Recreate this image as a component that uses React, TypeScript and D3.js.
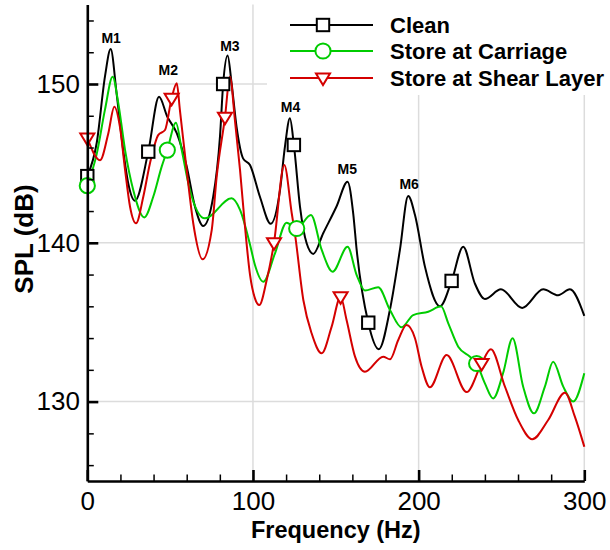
import React, { useEffect, useRef } from "react";
import * as d3 from "d3";

// ---------- data ----------
const cleanF = [0, 5.7, 10.7, 14.1, 17.7, 21.7, 24.7, 28.8, 36.8, 43.3, 48.3, 54, 60, 65, 70, 76, 80.1, 82, 84.7, 87.1, 90.1, 94.1, 98.2, 104.2, 110.7, 116.3, 119.3, 122.3, 124.7, 128.4, 132.4, 136.4, 142.4, 150.5, 157.1, 160.5, 162.6, 169.6, 176, 182.7, 188.7, 193.7, 197.8, 203.8, 212.9, 219.9, 226.9, 233.9, 240, 249.7, 262.5, 275.2, 284.2, 291.3, 300];
const cleanDb = [144.2, 146.3, 150.5, 152.2, 149.4, 145.8, 143.75, 142.65, 145.74, 149.2, 147.94, 146.9, 144.8, 142.27, 141.06, 142.9, 146.7, 150.0, 151.8, 150.04, 147.3, 145.3, 144.9, 142.9, 141.2, 143.3, 146.05, 147.84, 146.16, 142.27, 139.97, 139.3, 140.6, 142.3, 143.85, 141.86, 139.55, 134.97, 133.3, 135.8, 139.55, 142.95, 141.75, 138.5, 136.0, 137.6, 139.75, 137.45, 136.46, 137.07, 135.9, 137.07, 136.7, 137.07, 135.4];
const cleanMarkF = [0, 36.8, 82, 124.7, 169.6, 219.9];

const carriageF = [0, 5.7, 10.7, 15.3, 18.7, 22.8, 27.8, 34.4, 39.8, 44.9, 48.3, 53.5, 57, 62, 71, 87.1, 92.2, 98.2, 101.2, 106.2, 113.3, 120.3, 126.4, 135, 141.5, 148.1, 157.1, 162.6, 167.6, 175.6, 182.7, 189.7, 196.7, 205.8, 213.5, 217.9, 223.9, 231, 235, 240, 245, 251, 256.7, 263.1, 269.6, 276.2, 281.2, 287.3, 293.3, 300];
const carriageDb = [143.6, 145.6, 148.4, 150.46, 148.8, 145.84, 143.3, 141.6, 142.9, 144.8, 145.84, 147.56, 145.84, 143.3, 141.54, 142.8, 142.07, 139.9, 138.6, 137.55, 139.34, 141.27, 140.9, 141.75, 139.55, 138.18, 139.75, 137.97, 137.0, 137.2, 135.77, 134.68, 135.45, 135.66, 136.0, 134.93, 133.46, 132.83, 132.4, 131.15, 130.2, 131.8, 133.99, 130.94, 129.26, 130.94, 132.51, 130.94, 130.0, 131.78];
const carriageMarkF = [0, 48.3, 126.4, 235];

const shearF = [0, 7.7, 12.7, 16.3, 19.7, 22.8, 25.8, 29.4, 33.8, 37.8, 42.9, 46.9, 50.9, 54, 55.9, 60, 64, 69.6, 75.1, 78.1, 83.1, 86.1, 89.1, 92.2, 95.2, 98.2, 101.2, 103.8, 108.3, 112.7, 118.9, 123.4, 125.3, 130.4, 135.4, 141.5, 147.5, 152.9, 156.5, 161.6, 167.6, 178.6, 182.7, 187.7, 192.7, 197.8, 201.8, 206.8, 216.9, 229, 238, 243.6, 252.1, 260.1, 268.6, 278.2, 288.3, 294.3, 300];
const shearDb = [146.6, 145.2, 146.9, 148.57, 147.3, 144.6, 142.27, 141.23, 142.9, 145.0, 146.8, 147.1, 149.1, 150.04, 148.36, 144.58, 141.2, 138.96, 140.8, 144.16, 147.9, 150.46, 147.73, 144.58, 141.0, 138.0, 136.5, 136.08, 137.66, 140.0, 144.9, 141.86, 140.6, 136.4, 134.3, 133.04, 134.72, 136.6, 135.14, 132.83, 131.88, 132.83, 132.66, 133.88, 134.82, 133.99, 132.2, 130.9, 132.93, 130.6, 132.4, 133.29, 130.94, 128.84, 127.63, 128.84, 130.56, 129.05, 127.16];
const shearMarkF = [0, 50.9, 83.1, 112.7, 152.9, 238];

const seriesNames = ["Clean", "Store at Carriage", "Store at Shear Layer"];
const seriesColors = ["#000000", "#00cc00", "#d40000"];
const seriesShapes = ["square", "circle", "triangle"];

const modeLabels = ["M1", "M2", "M3", "M4", "M5", "M6"];
const modeLabelF = [14.4, 48.9, 86.1, 122.7, 156.9, 194.3];
const modeLabelDb = [152.88, 150.88, 152.39, 148.57, 144.63, 143.7];

const xMajorTicks = [0, 100, 200, 300];
const xMinorTicks = [20, 40, 60, 80, 120, 140, 160, 180, 220, 240, 260, 280];
const yMajorTicks = [130, 140, 150];
const yMinorTicks = [126, 128, 132, 134, 136, 138, 142, 144, 146, 148, 152, 154];

const FONT = "'Liberation Sans', Arial, Helvetica, sans-serif";

export default function App() {
  const ref = useRef<SVGSVGElement | null>(null);

  useEffect(() => {
    const svg = d3.select(ref.current);
    svg.selectAll("*").remove();

    const x = d3.scaleLinear().domain([0, 300]).range([87.3, 584.3]);
    const y = d3.scaleLinear().domain([125, 155]).range([481, 4.6]);

    // grid
    const grid = svg.append("g");
    grid.selectAll("line.gx").data([100, 200, 300]).join("line")
      .attr("x1", (d) => x(d)).attr("x2", (d) => x(d))
      .attr("y1", y(125)).attr("y2", y(155))
      .attr("stroke", "#dcdcdc").attr("stroke-width", 1.5);
    grid.selectAll("line.gy").data(yMajorTicks).join("line")
      .attr("x1", x(0)).attr("x2", x(300))
      .attr("y1", (d) => y(d)).attr("y2", (d) => y(d))
      .attr("stroke", "#dcdcdc").attr("stroke-width", 1.5);

    // series
    const data = [
      { f: cleanF, v: cleanDb, m: cleanMarkF },
      { f: carriageF, v: carriageDb, m: carriageMarkF },
      { f: shearF, v: shearDb, m: shearMarkF },
    ];
    const line = d3.line<[number, number]>()
      .x((d) => x(d[0])).y((d) => y(d[1]))
      .curve(d3.curveMonotoneX);

    const drawMarker = (g: any, shape: string, color: string, cx: number, cy: number) => {
      if (shape === "square") {
        g.append("rect").attr("x", cx - 6.2).attr("y", cy - 6.2).attr("width", 12.4).attr("height", 12.4)
          .attr("fill", "#fff").attr("stroke", color).attr("stroke-width", 2);
      } else if (shape === "circle") {
        g.append("circle").attr("cx", cx).attr("cy", cy).attr("r", 7.6)
          .attr("fill", "#fff").attr("stroke", color).attr("stroke-width", 2);
      } else {
        const s = 7;
        g.append("path")
          .attr("d", `M${cx - s},${cy - 4.5}L${cx + s},${cy - 4.5}L${cx},${cy + 7}Z`)
          .attr("fill", "#fff").attr("stroke", color).attr("stroke-width", 2);
      }
    };

    data.forEach((s, i) => {
      const pts = s.f.map((f, k) => [f, s.v[k]] as [number, number]);
      svg.append("path").attr("d", line(pts) as string)
        .attr("fill", "none").attr("stroke", seriesColors[i]).attr("stroke-width", 2);
    });
    data.forEach((s, i) => {
      const g = svg.append("g");
      s.m.forEach((mf) => {
        const k = s.f.indexOf(mf);
        drawMarker(g, seriesShapes[i], seriesColors[i], x(s.f[k]), y(s.v[k]));
      });
    });

    // mode labels
    svg.append("g").selectAll("text").data(modeLabels).join("text")
      .attr("x", (_d, i) => x(modeLabelF[i]))
      .attr("y", (_d, i) => y(modeLabelDb[i]))
      .attr("text-anchor", "middle").attr("dy", "0.35em")
      .attr("font-family", FONT).attr("font-weight", "bold").attr("font-size", 14)
      .text((d) => d);

    // legend background
    svg.append("rect").attr("x", 267).attr("y", 0).attr("width", 343).attr("height", 95).attr("fill", "#fff");

    // axes
    const yMajor = d3.axisLeft(y).tickValues(yMajorTicks).tickSizeInner(-11).tickSizeOuter(0).tickPadding(7.3)
      .tickFormat(d3.format("d") as any);
    const yMinor = d3.axisLeft(y).tickValues(yMinorTicks).tickSizeInner(-6.5).tickSizeOuter(0).tickFormat(() => "");
    const xMajor = d3.axisBottom(x).tickValues(xMajorTicks).tickSizeInner(-11).tickSizeOuter(0).tickPadding(11)
      .tickFormat(d3.format("d") as any);
    const xMinor = d3.axisBottom(x).tickValues(xMinorTicks).tickSizeInner(-6.5).tickSizeOuter(0).tickFormat(() => "");

    const gyMinor = svg.append("g").attr("transform", `translate(${x(0)},0)`).call(yMinor);
    const gxMinor = svg.append("g").attr("transform", `translate(0,${y(125)})`).call(xMinor);
    [gyMinor, gxMinor].forEach((g) => {
      g.select(".domain").remove();
      g.selectAll(".tick line").attr("stroke", "#000").attr("stroke-width", 1.5);
    });
    const gy = svg.append("g").attr("transform", `translate(${x(0)},0)`).call(yMajor);
    const gx = svg.append("g").attr("transform", `translate(0,${y(125)})`).call(xMajor);
    [gy, gx].forEach((g) => {
      g.select(".domain").attr("stroke", "#000").attr("stroke-width", 2.6);
      g.selectAll(".tick line").attr("stroke", "#000").attr("stroke-width", 2.6);
      g.selectAll(".tick text").attr("font-family", FONT).attr("font-size", 26).attr("fill", "#000");
    });

    // axis titles
    svg.append("text").attr("x", (x(0) + x(300)) / 2).attr("y", 538)
      .attr("text-anchor", "middle").attr("font-family", FONT).attr("font-weight", "bold").attr("font-size", 23.5)
      .text("Frequency (Hz)");
    svg.append("text").attr("transform", `translate(33,239) rotate(-90)`)
      .attr("text-anchor", "middle").attr("font-family", FONT).attr("font-weight", "bold").attr("font-size", 26)
      .text("SPL (dB)");

    // legend
    const legRowY = [25, 51, 78];
    seriesNames.forEach((name, i) => {
      const g = svg.append("g");
      g.append("line").attr("x1", 290).attr("x2", 373).attr("y1", legRowY[i]).attr("y2", legRowY[i])
        .attr("stroke", seriesColors[i]).attr("stroke-width", 2);
      drawMarker(g, seriesShapes[i], seriesColors[i], 323, legRowY[i]);
      g.append("text").attr("x", 390).attr("y", legRowY[i]).attr("dy", "0.36em")
        .attr("font-family", FONT).attr("font-weight", "bold").attr("font-size", 22).text(name);
    });
  }, []);

  return (
    <svg ref={ref} width={610} height={550}
      style={{ position: "absolute", left: 0, top: 0, background: "#fff" }} />
  );
}
